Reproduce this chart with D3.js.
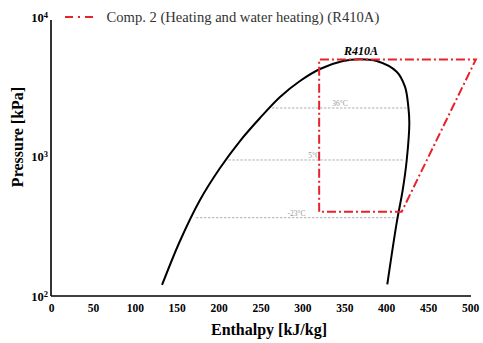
<!DOCTYPE html>
<html>
<head>
<meta charset="utf-8">
<script src="https://cdn.jsdelivr.net/npm/d3@7"></script>
<style>
  body { margin: 0; background: #fff; }
  svg { display: block; font-family: "Liberation Serif", "Times New Roman", serif; }
</style>
</head>
<body>
<script>
// saturation dome of R410A, [enthalpy kJ/kg, pressure kPa]
const liquidLine = [
  [132.5, 120], [153.9, 248], [177.8, 488], [201.7, 827], [225.5, 1291],
  [249.4, 1888], [273.3, 2670], [297.1, 3477], [321, 4239], [348.4, 4837],
  [368.7, 4975]
]
const vaporLine = [
  [388.7, 4837], [412.5, 4054], [422.4, 3166], [426.4, 2275], [427.6, 1739],
  [424.5, 944], [419.7, 575], [412.5, 334], [401.3, 121]
]
// Comp. 2 cycle
const cycle = [[320, 402], [320, 4960], [507, 4960], [418.5, 402], [320, 402]]
// isotherms
const isotherms = [
  {label: "36°C", p: 2227, h0: 263.7, h1: 424.5, hl: 345},
  {label: "5°C", p: 944, h0: 211.6, h1: 420, hl: 314},
  {label: "-23°C", p: 364, h0: 173, h1: 412.5, hl: 293}
]
const xTicks = [0, 50, 100, 150, 200, 250, 300, 350, 400, 450, 500]
const yTicks = [100, 1000, 10000]

const width = 483, height = 343
const x = d3.scaleLinear([0, 500], [51, 470])
const y = d3.scaleLog([100, 10000], [296, 17])

const svg = d3.select("body").append("svg")
    .attr("width", width)
    .attr("height", height)

const line = d3.line()
    .x(d => x(d[0]))
    .y(d => y(d[1]))

// isotherm dashed lines
const iso = svg.append("g")
iso.selectAll("line")
    .data(isotherms)
    .join("line")
    .attr("x1", d => x(d.h0))
    .attr("x2", d => x(d.h1))
    .attr("y1", d => y(d.p))
    .attr("y2", d => y(d.p))
    .attr("stroke", "#a8a8a8")
    .attr("stroke-width", 0.9)
    .attr("stroke-dasharray", "2.5,1.5")
iso.selectAll("text")
    .data(isotherms)
    .join("text")
    .attr("x", d => x(d.hl))
    .attr("y", d => y(d.p) - 1.5)
    .attr("text-anchor", "middle")
    .attr("font-size", 7.5)
    .attr("fill", "#9a9a9a")
    .text(d => d.label)

// dome
svg.append("path")
    .datum([...liquidLine, ...vaporLine])
    .attr("fill", "none")
    .attr("stroke", "#000")
    .attr("stroke-width", 2)
    .attr("stroke-linejoin", "round")
    .attr("d", line.curve(d3.curveCatmullRom.alpha(0.5)))

// cycle
svg.append("path")
    .datum(cycle)
    .attr("fill", "none")
    .attr("stroke", "#e8222a")
    .attr("stroke-width", 2)
    .attr("stroke-dasharray", "9,3,2,3")
    .attr("d", d3.line().x(d => x(d[0])).y(d => y(d[1])))

svg.append("text")
    .attr("x", 361)
    .attr("y", 55)
    .attr("text-anchor", "middle")
    .attr("font-size", 12)
    .attr("font-weight", "bold")
    .attr("font-style", "italic")
    .text("R410A")

// axes
const xAxis = svg.append("g")
    .attr("transform", `translate(0,${y(100)})`)
    .call(d3.axisBottom(x).tickValues(xTicks).tickSize(0).tickPadding(8))
xAxis.select(".domain").attr("stroke-width", 1.6).attr("d", `M${x(0)},0H${x(500) + 1}`)
xAxis.selectAll("text")
    .attr("font-family", "Liberation Serif, serif")
    .attr("font-size", 11.5)
    .attr("font-weight", "bold")
    .attr("fill", "#000")

const yAxis = svg.append("g")
    .attr("transform", `translate(${x(0)},0)`)
    .call(d3.axisLeft(y).tickValues(yTicks).tickSize(0).tickFormat(""))
yAxis.select(".domain").attr("stroke-width", 1.6).attr("d", `M0,${y(100)}V${y(10000) + 3}`)
yAxis.selectAll(".tick text").remove()
yAxis.selectAll(".tick").append("text")
    .attr("x", -3)
    .attr("y", 0)
    .attr("dy", "0.35em")
    .attr("text-anchor", "end")
    .attr("font-family", "Liberation Serif, serif")
    .attr("font-size", 12.5)
    .attr("font-weight", "bold")
    .attr("fill", "#000")
    .call(t => t.append("tspan").text("10"))
    .call(t => t.append("tspan")
        .attr("font-size", 8.5)
        .attr("dy", "-0.5em")
        .text(d => Math.round(Math.log10(d))))

svg.append("text")
    .attr("x", 269)
    .attr("y", 335)
    .attr("text-anchor", "middle")
    .attr("font-size", 16)
    .attr("font-weight", "bold")
    .text("Enthalpy [kJ/kg]")

svg.append("text")
    .attr("transform", "translate(23,137) rotate(-90)")
    .attr("text-anchor", "middle")
    .attr("font-size", 16)
    .attr("font-weight", "bold")
    .text("Pressure [kPa]")

// legend
const legend = svg.append("g")
legend.append("line")
    .attr("x1", 65).attr("x2", 95)
    .attr("y1", 17).attr("y2", 17)
    .attr("stroke", "#e8222a")
    .attr("stroke-width", 2)
    .attr("stroke-dasharray", "8,5,2,5")
legend.append("text")
    .attr("x", 106.5)
    .attr("y", 21.5)
    .attr("font-size", 14.6)
    .attr("fill", "#333")
    .text("Comp. 2 (Heating and water heating) (R410A)")
</script>
</body>
</html>
